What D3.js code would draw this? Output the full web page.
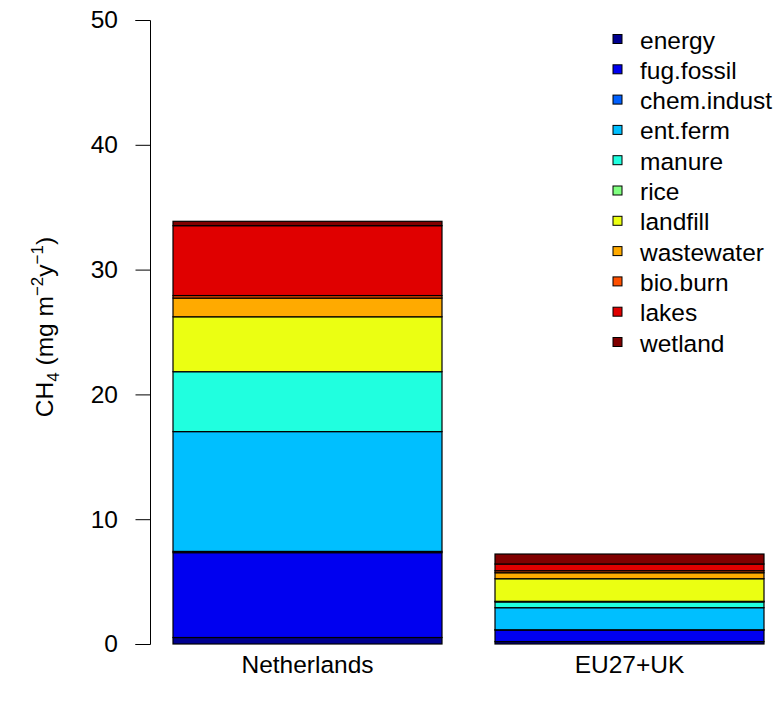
<!DOCTYPE html>
<html><head><meta charset="utf-8">
<script src="https://cdn.jsdelivr.net/npm/d3@7"></script>
<style>body{margin:0;background:#fff}svg{display:block}text{font-family:"Liberation Sans",Arial,sans-serif}</style>
</head><body>
<svg id="c" width="782" height="703"></svg>
<script>
const regions = ["Netherlands", "EU27+UK"];
const sources = ["energy","fug.fossil","chem.indust","ent.ferm","manure","rice","landfill","wastewater","bio.burn","lakes","wetland"];
const colors = ["#00008F","#0000F0","#0060FF","#00BFFF","#20FFDF","#80FF80","#EBFF12","#FFAA00","#FF5000","#E00000","#800000"];
const netherlands = [0.52, 6.8, 0.1, 9.6, 4.8, 0.0, 4.4, 1.5, 0.2, 5.6, 0.35];
const eu27uk = [0.19, 0.93, 0.02, 1.77, 0.46, 0.05, 1.81, 0.48, 0.16, 0.54, 0.8];
const yTicks = [0, 10, 20, 30, 40, 50];

const FS = 24.5;
const svg = d3.select("#c");
const y = d3.scaleLinear().domain([0, 50]).range([644, 20]);
const x = d3.scaleBand().domain(regions).range([146.5, 790.5]).paddingInner(0.1646).paddingOuter(0.0823);

const data = [netherlands, eu27uk];
regions.forEach((r, i) => {
  let cum = 0;
  const segs = data[i].map((v, k) => { const s = {k, y0: cum, y1: cum + v}; cum += v; return s; });
  svg.append("g").selectAll("rect").data(segs).join("rect")
    .attr("x", x(r)).attr("width", x.bandwidth())
    .attr("y", d => y(d.y1)).attr("height", d => y(d.y0) - y(d.y1))
    .attr("fill", d => colors[d.k]).attr("stroke", "#000").attr("stroke-width", 1.2);
});

// y axis
const ax = svg.append("g").attr("transform", "translate(150,0)")
  .call(d3.axisLeft(y).tickValues(yTicks).tickSize(14.5).tickPadding(17.5));
ax.select(".domain").attr("stroke", "#000").attr("stroke-width", 1);
ax.selectAll(".tick line").attr("stroke", "#000");
ax.selectAll("text").attr("font-size", FS).attr("fill", "#000").attr("font-family", "Liberation Sans, Arial, sans-serif");

// x labels
svg.append("g").selectAll("text").data(regions).join("text")
  .attr("x", d => x(d) + x.bandwidth() / 2).attr("y", 673)
  .attr("text-anchor", "middle").attr("font-size", FS).text(d => d);

// y title
const t = svg.append("text").attr("transform", "translate(53,327) rotate(-90)")
  .attr("text-anchor", "middle").attr("font-size", FS);
t.append("tspan").text("CH");
t.append("tspan").attr("font-size", 17).attr("dy", 6).text("4");
t.append("tspan").attr("dy", -6).text(" (mg m");
t.append("tspan").attr("font-size", 17).attr("dy", -10).text("\u22122");
t.append("tspan").attr("dy", 10).text("y");
t.append("tspan").attr("font-size", 17).attr("dy", -10).text("\u22121");
t.append("tspan").attr("dy", 10).text(")");

// legend
const lg = svg.append("g").selectAll("g").data(sources).join("g")
  .attr("transform", (d, i) => `translate(613,${39 + i * 30.3})`);
lg.append("rect").attr("x", 0).attr("y", -4.5).attr("width", 9).attr("height", 9)
  .attr("fill", (d, i) => colors[i]).attr("stroke", "#000").attr("stroke-width", 1);
lg.append("text").attr("x", 27).attr("y", 9.5).attr("font-size", FS).text(d => d);
</script>
</body></html>
